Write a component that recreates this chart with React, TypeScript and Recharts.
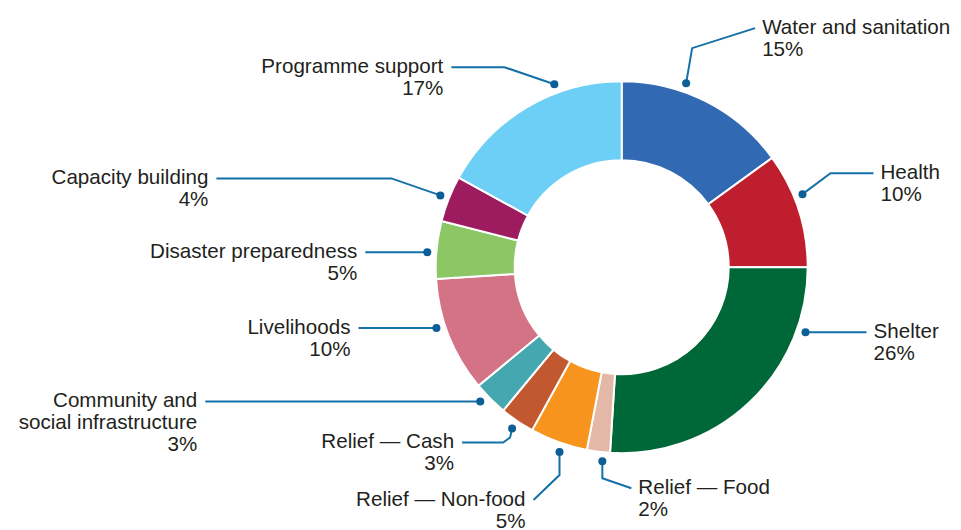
import React from 'react';
import { PieChart, Pie, Cell } from 'recharts';

// share of spending by sector, clockwise from 12 o'clock
const sectors = [
  'Water and sanitation',
  'Health',
  'Shelter',
  'Relief — Food',
  'Relief — Non-food',
  'Relief — Cash',
  'Community and social infrastructure',
  'Livelihoods',
  'Disaster preparedness',
  'Capacity building',
  'Programme support',
];
const shares = [15, 10, 26, 2, 5, 3, 3, 10, 5, 4, 17];

// how each label is broken over lines
const labelLines = [
  ['Water and sanitation'],
  ['Health'],
  ['Shelter'],
  ['Relief — Food'],
  ['Relief — Non-food'],
  ['Relief — Cash'],
  ['Community and', 'social infrastructure'],
  ['Livelihoods'],
  ['Disaster preparedness'],
  ['Capacity building'],
  ['Programme support'],
];

const colors = [
  '#3169B3', '#BE1E2D', '#006838', '#E4B8A6', '#F7941E', '#C1582F',
  '#45A8B0', '#D47385', '#8DC665', '#9C1C5F', '#6DCFF6',
];

// leader line layout: angle shift of the dot (deg, clockwise), elbow points relative to the dot, text side
const leaders = [
  { shift: -7.7, pts: [[6, -35], [69, -55]], side: 'start' },
  { shift: -4, pts: [[28, -21], [71, -21]], side: 'start' },
  { shift: -27.3, pts: [[61, 0]], side: 'start' },
  { shift: -1.5, pts: [[0, 17], [29, 27]], side: 'start' },
  { shift: -1.2, pts: [[0, 23], [-26, 48]], side: 'end' },
  { shift: 0, pts: [[-2, 9], [-9, 14], [-50, 14]], side: 'end' },
  { shift: 1.5, pts: [[-275, 0]], side: 'end' },
  { shift: 3.4, pts: [[-78, 0]], side: 'end' },
  { shift: -1, pts: [[-62, 0]], side: 'end' },
  { shift: 0, pts: [[-49, -17], [-224, -17]], side: 'end' },
  { shift: 10.4, pts: [[-50, -17], [-103, -17]], side: 'end' },
];

const data = sectors.map((name, i) => ({ name, value: shares[i] }));

const RAD = Math.PI / 180;
const FONT = '"Liberation Sans", Arial, Helvetica, sans-serif';

const renderLabel = (props) => {
  const { cx, cy, midAngle, outerRadius, index, value } = props;
  const lay = leaders[index];
  const ang = midAngle - lay.shift;
  const r = outerRadius + 9;
  const dx = cx + r * Math.cos(-ang * RAD);
  const dy = cy + r * Math.sin(-ang * RAD);
  const points = [[dx, dy], ...lay.pts.map(([px, py]) => [dx + px, dy + py])];
  const end = points[points.length - 1];
  const tx = lay.side === 'start' ? end[0] + 7 : end[0] - 8;
  const lines = [...labelLines[index], `${value}%`];
  return (
    <g key={`lbl-${index}`}>
      <polyline
        points={points.map((p) => p.join(',')).join(' ')}
        fill="none"
        stroke="#1470A8"
        strokeWidth={2}
      />
      <circle cx={dx} cy={dy} r={4} fill="#0B5E96" />
      <text
        x={tx}
        y={end[1] - 2.5}
        textAnchor={lay.side}
        fill="#231F20"
        fontSize={20.6}
        fontFamily={FONT}
        dominantBaseline="central"
      >
        {lines.map((t, k) => (
          <tspan key={k} x={tx} dy={k === 0 ? 0 : 22}>
            {t}
          </tspan>
        ))}
      </text>
    </g>
  );
};

export default function App() {
  return (
    <div style={{ position: 'absolute', left: 0, top: 0, background: '#fff' }}>
      <PieChart width={961} height={530} margin={{ top: 0, right: 0, bottom: 0, left: 0 }}>
        <Pie
          data={data}
          dataKey="value"
          nameKey="name"
          cx={621.7}
          cy={267.2}
          innerRadius={107}
          outerRadius={186}
          startAngle={90}
          endAngle={-270}
          stroke="#fff"
          strokeWidth={2}
          label={renderLabel}
          labelLine={false}
          isAnimationActive={false}
        >
          {data.map((d, i) => (
            <Cell key={d.name} fill={colors[i]} />
          ))}
        </Pie>
      </PieChart>
    </div>
  );
}
